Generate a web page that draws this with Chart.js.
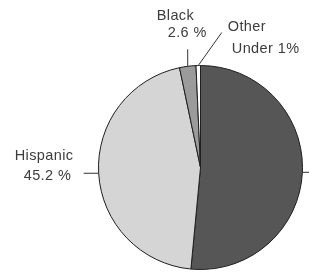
<!DOCTYPE html>
<html>
<head>
<meta charset="utf-8">
<script src="https://cdn.jsdelivr.net/npm/chart.js@4.4.0/dist/chart.umd.min.js"></script>
<style>
  html, body { margin: 0; padding: 0; background: #fff; }
  #wrap { width: 309px; height: 273px; position: relative; }
</style>
</head>
<body>
<div id="wrap"><canvas id="pieChart"></canvas></div>
<script>
// data
const categories = ['White', 'Hispanic', 'Black', 'Other'];
const shares = [51.5, 45.2, 2.6, 0.7];
const labelTexts = [[], ['Hispanic', '45.2 %'], ['Black', '2.6 %'], ['Other', 'Under 1%']];

const sliceColors = ['#565656', '#d5d5d5', '#9b9b9b', '#ffffff'];

// leader line (from slice edge) and text offsets from the leader end
const callouts = [
    { leader: [15, 0], text: [] },
    { leader: [-15, 0], text: [[-69, -13], [-60, 7]] },
    { leader: [0, -17], text: [[-31, -29], [-20, -12]] },
    { leader: [23.5, -33], text: [[6, -2], [10, 20]] }
];

const calloutPlugin = {
    id: 'callouts',
    afterDraw(chart) {
        const ctx = chart.ctx;
        const arcs = chart.getDatasetMeta(0).data;
        ctx.save();
        ctx.strokeStyle = '#333';
        ctx.lineWidth = 1;
        ctx.fillStyle = '#3c3c3c';
        ctx.font = '14.5px "Liberation Sans", Arial, sans-serif';
        ctx.letterSpacing = '0.4px';
        ctx.textBaseline = 'alphabetic';
        arcs.forEach((arc, i) => {
            const p = arc.getProps(['x', 'y', 'startAngle', 'endAngle', 'outerRadius'], true);
            const mid = (p.startAngle + p.endAngle) / 2;
            const sx = p.x + Math.cos(mid) * p.outerRadius;
            const sy = p.y + Math.sin(mid) * p.outerRadius;
            const c = callouts[i];
            const ex = sx + c.leader[0];
            const ey = sy + c.leader[1];
            ctx.beginPath();
            ctx.moveTo(sx, sy);
            ctx.lineTo(ex, ey);
            ctx.stroke();
            labelTexts[i].forEach((t, j) => {
                ctx.fillText(t, ex + c.text[j][0], ey + c.text[j][1]);
            });
        });
        ctx.restore();
    }
};

const ctxPie = document.getElementById('pieChart').getContext('2d');
new Chart(ctxPie, {
    type: 'pie',
    data: {
        labels: categories,
        datasets: [{
            data: shares,
            backgroundColor: sliceColors,
            borderColor: '#1e1e1e',
            borderWidth: 1
        }]
    },
    options: {
        responsive: true,
        maintainAspectRatio: false,
        animation: false,
        layout: { padding: { left: 97, right: 5, top: 65, bottom: 3 } },
        plugins: {
            legend: { display: false },
            tooltip: { enabled: false }
        }
    },
    plugins: [calloutPlugin]
});
</script>
</body>
</html>
